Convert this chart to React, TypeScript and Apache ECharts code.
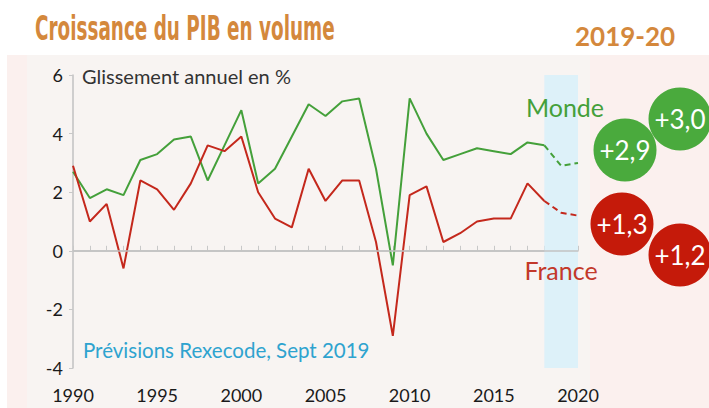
import React, { useEffect, useRef } from "react";
import * as echarts from "echarts";

const years = [1990, 1991, 1992, 1993, 1994, 1995, 1996, 1997, 1998, 1999, 2000, 2001, 2002, 2003, 2004, 2005, 2006, 2007, 2008, 2009, 2010, 2011, 2012, 2013, 2014, 2015, 2016, 2017, 2018, 2019, 2020];
const monde = [2.7, 1.8, 2.1, 1.9, 3.1, 3.3, 3.8, 3.9, 2.4, 3.6, 4.8, 2.3, 2.8, 3.9, 5.0, 4.6, 5.1, 5.2, 2.8, -0.5, 5.2, 4.0, 3.1, 3.3, 3.5, 3.4, 3.3, 3.7, 3.6, 2.9, 3.0];
const france = [2.9, 1.0, 1.6, -0.6, 2.4, 2.1, 1.4, 2.3, 3.6, 3.4, 3.9, 2.0, 1.1, 0.8, 2.8, 1.7, 2.4, 2.4, 0.3, -2.9, 1.9, 2.2, 0.3, 0.6, 1.0, 1.1, 1.1, 2.3, 1.7, 1.3, 1.2];
const forecastStart = 2018;
const forecastEnd = 2020;
const yTicks = { min: -4, max: 6, interval: 2 };
const xTicks = { min: 1990, max: 2020, interval: 5 };

const GREEN = "#44a03a";
const RED = "#c4281c";
const BUB_GREEN = "#4aaa3d";
const BUB_RED = "#c51a0a";
const ORANGE = "#d4883c";
const FONT = "Lato, 'Open Sans', sans-serif";

function pairs(vals: number[], from: number, to: number) {
  const out: number[][] = [];
  years.forEach((y, i) => {
    if (y >= from && y <= to) out.push([y, vals[i]]);
  });
  return out;
}

function fmt(v: number) {
  return (v >= 0 ? "+" : "") + v.toFixed(1).replace(".", ",");
}

function valueAt(vals: number[], year: number) {
  return vals[years.indexOf(year)];
}

function bubble(cx: number, cy: number, color: string, text: string) {
  return {
    type: "group",
    z: 100,
    children: [
      { type: "circle", shape: { cx, cy, r: 31.5 }, style: { fill: color }, z: 100 },
      {
        type: "text",
        x: cx,
        y: cy,
        z: 101,
        style: {
          text,
          fill: "#ffffff",
          font: `26px ${FONT}`,
          textAlign: "center",
          textVerticalAlign: "middle",
        },
      },
    ],
  };
}

export default function App() {
  const ref = useRef<HTMLDivElement>(null);
  useEffect(() => {
    if (!ref.current) return;
    const chart = echarts.init(ref.current, null, { renderer: "svg" });
    const option: any = {
      animation: false,
      backgroundColor: "#ffffff",
      grid: { left: 73, right: 131, top: 75, bottom: 40 },
      xAxis: {
        type: "value",
        min: xTicks.min,
        max: xTicks.max,
        interval: xTicks.interval,
        axisLine: { show: true, lineStyle: { color: "#c2c2c2", width: 1.5 } },
        axisTick: { show: true, inside: true, length: 5, lineStyle: { color: "#c8c8c8" } },
        minorTick: { show: true, splitNumber: 5, length: 5, lineStyle: { color: "#c8c8c8" } },
        splitLine: { show: false },
        axisLabel: {
          color: "#1a1a1a",
          fontSize: 18,
          fontFamily: FONT,
          margin: 18,
          formatter: (v: number) => String(v),
        },
      },
      yAxis: {
        type: "value",
        min: yTicks.min,
        max: yTicks.max,
        interval: yTicks.interval,
        axisLine: { show: true, lineStyle: { color: "#c2c2c2", width: 1.5 } },
        axisTick: { show: true, length: 4, lineStyle: { color: "#c8c8c8" } },
        splitLine: { show: false },
        axisLabel: {
          color: "#1a1a1a",
          fontSize: 18,
          fontFamily: FONT,
          margin: 10,
          formatter: (v: number) => String(v),
        },
      },
      series: [
        {
          type: "line",
          data: [],
          z: 1,
          silent: true,
          markArea: {
            silent: true,
            itemStyle: { color: "#ddf1f9" },
            data: [[{ xAxis: forecastStart }, { xAxis: forecastEnd }]],
          },
          markLine: {
            silent: true,
            symbol: "none",
            label: { show: false },
            lineStyle: { color: "#c2c2c2", type: "solid", width: 1.5 },
            data: [{ yAxis: 0 }],
          },
        },
        {
          name: "Monde",
          type: "line",
          data: pairs(monde, years[0], forecastStart),
          symbol: "none",
          lineStyle: { color: GREEN, width: 2 },
          z: 3,
        },
        {
          name: "Monde prévision",
          type: "line",
          data: pairs(monde, forecastStart, forecastEnd),
          symbol: "none",
          lineStyle: { color: GREEN, width: 2, type: [6, 4] },
          z: 3,
        },
        {
          name: "France",
          type: "line",
          data: pairs(france, years[0], forecastStart),
          symbol: "none",
          lineStyle: { color: RED, width: 2 },
          z: 3,
        },
        {
          name: "France prévision",
          type: "line",
          data: pairs(france, forecastStart, forecastEnd),
          symbol: "none",
          lineStyle: { color: RED, width: 2, type: [6, 4] },
          z: 3,
        },
      ],
      graphic: [
        { type: "rect", z: -100, shape: { x: 7, y: 55, width: 702, height: 353 }, style: { fill: "#fbf0ee" } },
        { type: "rect", z: -99, shape: { x: 27, y: 55, width: 563, height: 353 }, style: { fill: "#f8f4f2" } },
        {
          type: "text",
          x: 35,
          y: 29,
          scaleX: 0.62,
          z: 100,
          style: {
            text: "Croissance du PIB en volume",
            fill: ORANGE,
            font: "bold 33px 'Liberation Sans Narrow', 'DejaVu Sans Condensed', sans-serif",
            textAlign: "left",
            textVerticalAlign: "middle",
          },
        },
        {
          type: "text",
          x: 575,
          y: 36,
          z: 100,
          style: { text: "2019-20", fill: ORANGE, font: `bold 26px ${FONT}`, textAlign: "left", textVerticalAlign: "middle" },
        },
        {
          type: "text",
          x: 82,
          y: 76,
          z: 100,
          style: { text: "Glissement annuel en %", fill: "#333333", font: `20px ${FONT}`, textAlign: "left", textVerticalAlign: "middle" },
        },
        {
          type: "text",
          x: 83,
          y: 350,
          z: 100,
          style: { text: "Prévisions Rexecode, Sept 2019", fill: "#2ea3cf", font: `20.5px ${FONT}`, textAlign: "left", textVerticalAlign: "middle" },
        },
        {
          type: "text",
          x: 565,
          y: 107,
          z: 100,
          style: { text: "Monde", fill: GREEN, font: `25px ${FONT}`, textAlign: "center", textVerticalAlign: "middle" },
        },
        {
          type: "text",
          x: 561,
          y: 270,
          z: 100,
          style: { text: "France", fill: "#c3392a", font: `25px ${FONT}`, textAlign: "center", textVerticalAlign: "middle" },
        },
        bubble(680, 119, BUB_GREEN, fmt(valueAt(monde, 2020))),
        bubble(625, 150, BUB_GREEN, fmt(valueAt(monde, 2019))),
        bubble(622, 224, BUB_RED, fmt(valueAt(france, 2019))),
        bubble(680, 255, BUB_RED, fmt(valueAt(france, 2020))),
      ],
    };
    chart.setOption(option);
    return () => chart.dispose();
  }, []);
  return <div ref={ref} style={{ position: "fixed", left: 0, top: 0, width: 709, height: 408 }} />;
}
